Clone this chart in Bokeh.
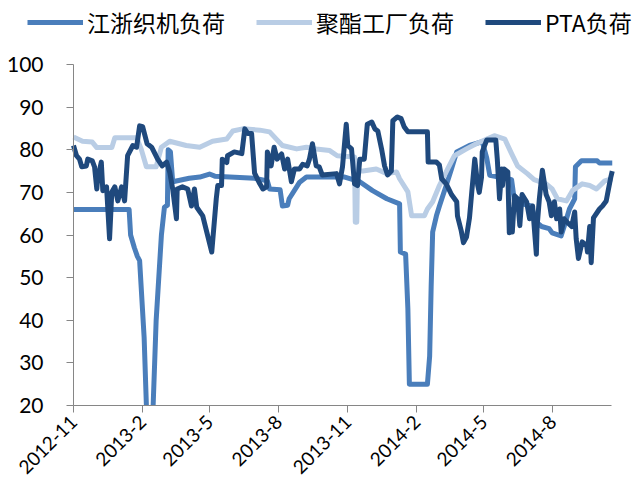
import pandas as pd
from bokeh.plotting import figure
from bokeh.models import Legend, LegendItem, FixedTicker, Range1d, DatetimeTickFormatter
from bokeh.embed import file_html
from bokeh.resources import INLINE
import math

NaN = float("nan")  # the series leaves the 20..100 scale (drawn as a gap below the axis)

# ---------------- data ----------------
tick_dates = ["2012-11-01", "2013-02-01", "2013-05-01", "2013-08-01",
              "2013-11-01", "2014-02-01", "2014-05-01", "2014-08-01"]
tick_labels = ["2012-11", "2013-2", "2013-5", "2013-8",
               "2013-11", "2014-2", "2014-5", "2014-8"]
y_ticks = [20, 30, 40, 50, 60, 70, 80, 90, 100]

jz_dates = ["2012-11-01", "2013-01-14", "2013-01-16", "2013-01-21", "2013-01-25", "2013-01-28",
            "2013-02-03", "2013-02-06", "2013-02-10", "2013-02-15", "2013-02-17", "2013-02-19",
            "2013-02-26", "2013-03-02", "2013-03-06", "2013-03-07", "2013-03-10", "2013-03-13",
            "2013-04-04", "2013-04-18", "2013-05-01", "2013-05-08", "2013-06-30", "2013-07-17",
            "2013-07-20", "2013-08-03", "2013-08-06", "2013-08-13", "2013-08-15", "2013-08-29",
            "2013-09-07", "2013-10-28", "2013-11-17", "2013-12-04", "2013-12-23", "2014-01-09",
            "2014-01-10", "2014-01-17", "2014-01-20", "2014-01-22", "2014-02-15", "2014-02-18",
            "2014-02-20", "2014-02-22", "2014-02-27", "2014-03-03", "2014-03-12", "2014-03-19",
            "2014-03-26", "2014-04-12", "2014-04-29", "2014-05-05", "2014-05-09", "2014-06-07",
            "2014-06-11", "2014-07-03", "2014-07-10", "2014-07-17", "2014-07-27", "2014-07-31",
            "2014-08-12", "2014-08-16", "2014-08-23", "2014-08-30", "2014-08-31", "2014-09-08",
            "2014-09-29", "2014-10-02", "2014-10-19"]
jz_vals = [66, 66, 60, 57, 55, 54,
           36, 20, NaN, 20, 30, 40,
           60, 66.5, 67, 80, 79.5, 72.5,
           73.3, 73.6, 74.3, 73.8, 73.3, 72.7,
           70.8, 70.6, 66.8, 67, 68.5, 72.4,
           73.6, 73.6, 72.5, 70.4, 68.5, 67.3,
           56, 55.5, 42.7, 25, 25, 31.6,
           48, 60.7, 64.5, 66.8, 71.6, 75.5,
           79.5, 81, 81.9, 78, 74, 73,
           67.8, 66.8, 63, 62, 61.5, 60.5,
           59.8, 62, 66.1, 68.5, 76, 77.4,
           77.4, 76.9, 76.9]

jy_dates = ["2012-11-01", "2012-11-13", "2012-11-26", "2012-12-02", "2012-12-22", "2012-12-26",
            "2013-01-24", "2013-01-30", "2013-02-06", "2013-02-19", "2013-02-26", "2013-03-09",
            "2013-03-31", "2013-04-18", "2013-05-05", "2013-05-24", "2013-06-01", "2013-06-14",
            "2013-07-07", "2013-07-20", "2013-07-29", "2013-08-06", "2013-08-25", "2013-09-07",
            "2013-09-20", "2013-10-08", "2013-10-18", "2013-11-10", "2013-11-11", "2013-11-13",
            "2013-11-14", "2013-11-21", "2013-12-09", "2013-12-23", "2014-01-05", "2014-01-09",
            "2014-01-20", "2014-01-25", "2014-02-11", "2014-02-15", "2014-02-22", "2014-03-03",
            "2014-03-14", "2014-03-23", "2014-04-08", "2014-04-21", "2014-05-15", "2014-05-29",
            "2014-06-07", "2014-06-15", "2014-06-28", "2014-07-07", "2014-07-23", "2014-07-31",
            "2014-08-07", "2014-08-19", "2014-08-27", "2014-09-09", "2014-09-19", "2014-09-28",
            "2014-10-09", "2014-10-19"]
jy_vals = [83, 82, 81.8, 80.5, 80.5, 82.8,
           82.8, 80.2, 76, 76, 80.6, 82,
           81, 80.6, 82, 82.5, 84.4, 84.9,
           84.6, 84.2, 82.5, 81, 80.2, 80.6,
           80.2, 79.8, 78.6, 78.3, 63, 63,
           75, 75, 75.5, 74.4, 74.8, 73.2,
           70.1, 64.5, 64.5, 66.1, 67.8, 71.6,
           75.5, 78.6, 80.2, 81.4, 83.3, 82.5,
           79.1, 76.2, 74.4, 73, 72, 70.8,
           68.5, 68, 70.4, 72, 71.6, 70.8,
           72.7, 73.2]

pta_dates = ["2012-11-01", "2012-11-05", "2012-11-09", "2012-11-12", "2012-11-18", "2012-11-20",
             "2012-11-26", "2012-11-29", "2012-12-02", "2012-12-03", "2012-12-08", "2012-12-10",
             "2012-12-15", "2012-12-19", "2012-12-22", "2012-12-26", "2012-12-30", "2013-01-04",
             "2013-01-08", "2013-01-12", "2013-01-19", "2013-01-24", "2013-01-28", "2013-02-01",
             "2013-02-07", "2013-02-13", "2013-02-21", "2013-02-27", "2013-03-05", "2013-03-09",
             "2013-03-13", "2013-03-18", "2013-03-19", "2013-03-26", "2013-04-02", "2013-04-07",
             "2013-04-11", "2013-04-14", "2013-04-22", "2013-05-04", "2013-05-10", "2013-05-12",
             "2013-05-17", "2013-05-18", "2013-05-24", "2013-05-25", "2013-06-03", "2013-06-13",
             "2013-06-17", "2013-06-21", "2013-06-26", "2013-06-30", "2013-07-07", "2013-07-11",
             "2013-07-16", "2013-07-17", "2013-07-22", "2013-07-26", "2013-07-30", "2013-08-05",
             "2013-08-09", "2013-08-13", "2013-08-18", "2013-08-22", "2013-08-29", "2013-09-02",
             "2013-09-08", "2013-09-11", "2013-09-15", "2013-09-20", "2013-09-24", "2013-09-28",
             "2013-10-17", "2013-10-21", "2013-10-25", "2013-10-30", "2013-11-01", "2013-11-06",
             "2013-11-10", "2013-11-14", "2013-11-17", "2013-11-23", "2013-11-27", "2013-12-03",
             "2013-12-07", "2013-12-11", "2013-12-16", "2013-12-20", "2013-12-24", "2013-12-29",
             "2013-12-31", "2014-01-06", "2014-01-11", "2014-01-15", "2014-01-20", "2014-02-15",
             "2014-02-16", "2014-02-27", "2014-03-03", "2014-03-06", "2014-03-12", "2014-03-16",
             "2014-03-19", "2014-03-26", "2014-03-27", "2014-04-01", "2014-04-04", "2014-04-08",
             "2014-04-12", "2014-04-15", "2014-04-19", "2014-04-23", "2014-04-25", "2014-04-28",
             "2014-04-29", "2014-05-05", "2014-05-17", "2014-05-19", "2014-05-22", "2014-05-25",
             "2014-05-26", "2014-05-28", "2014-06-02", "2014-06-04", "2014-06-07", "2014-06-08",
             "2014-06-11", "2014-06-15", "2014-06-18", "2014-06-21", "2014-06-27", "2014-07-01",
             "2014-07-05", "2014-07-10", "2014-07-11", "2014-07-14", "2014-07-18", "2014-07-23",
             "2014-07-27", "2014-07-30", "2014-08-03", "2014-08-06", "2014-08-10", "2014-08-12",
             "2014-08-16", "2014-08-20", "2014-08-26", "2014-08-30", "2014-09-01", "2014-09-04",
             "2014-09-09", "2014-09-15", "2014-09-16", "2014-09-19", "2014-09-21", "2014-09-24",
             "2014-10-02", "2014-10-06", "2014-10-11", "2014-10-14", "2014-10-17", "2014-10-19"]
pta_vals = [81, 78.6, 77.8, 76, 76.2, 77.8,
            77.4, 76, 70.8, 73, 77.1, 70.4,
            71.3, 59.1, 70.1, 71.3, 68, 71.3,
            68, 78.6, 81, 80.6, 85.6, 85.4,
            81.4, 80.6, 77.8, 76.2, 77.1, 74.8,
            70.8, 63.8, 70.8, 71.3, 70.8, 66.8,
            70.8, 66.5, 64.5, 56, 68.5, 71.6,
            71.6, 77.8, 77, 78.6, 79.5, 79.1,
            84.9, 83.8, 83.8, 74.5, 72, 70.8,
            71.3, 79.5, 76.2, 80.6, 77.8, 79,
            75.5, 77.8, 72.5, 75.5, 75.5, 76.6,
            76.2, 77.8, 81.4, 76.2, 76, 74.1,
            74.4, 72, 76, 86, 81, 80.2,
            72, 71.6, 77.8, 77.8, 86, 86.5,
            84.9, 84.4, 80.2, 76.2, 74.1, 75,
            86.8, 87.7, 87.3, 85.4, 84.2, 84.2,
            77.1, 77.1, 76.4, 73.2, 72, 70.6,
            69.5, 67.8, 64.5, 61, 58.2, 59.5,
            64, 70, 77.8, 71.6, 70, 73.5,
            79.5, 82.3, 82.3, 77.8, 68.5, 75.5,
            71.6, 75.5, 74.8, 60.5, 66, 60.7,
            69.2, 68.5, 62.2, 69.5, 67.8, 63.8,
            66.8, 55.5, 62, 68.5, 75.2, 69.5,
            67.8, 64.5, 67.8, 63.8, 66.1, 60.7,
            63.8, 63, 62, 65.4, 59.1, 54.5,
            58.4, 57.5, 56, 62, 53.5, 64,
            66.1, 66.8, 68, 70.8, 73.5, 75]

series_names = ["江浙织机负荷", "聚酯工厂负荷", "PTA负荷"]
series_colors = ["#4A7EBB", "#B9CDE5", "#1F497D"]
series = [(jz_dates, jz_vals), (jy_dates, jy_vals), (pta_dates, pta_vals)]

# ---------------- figure ----------------
# The frame spans the whole canvas (so the legend may sit above/left of the axes);
# both axes are pinned with fixed_location/bounds to the 2012-11..2014-10 x 20..100 box.
x_start = pd.Timestamp("2012-11-01")
x_end = pd.Timestamp("2014-10-18")
px_per_day = 538 / (x_end - x_start).days
px_per_unit = 341 / 80
view_start = x_start - pd.Timedelta(days=73 / px_per_day)
view_end = x_end + pd.Timedelta(days=25 / px_per_day)
y_top = 100 + 64 / px_per_unit
y_bottom = 20 - 83 / px_per_unit

p = figure(width=636, height=488, output_backend="svg", toolbar_location=None,
           x_axis_type="datetime",
           x_range=Range1d(view_start, view_end), y_range=Range1d(y_bottom, y_top),
           min_border_left=0, min_border_right=0, min_border_top=0, min_border_bottom=0)
p.outline_line_color = None
p.grid.visible = False

renderers = []
for (dates, vals), color in zip(series, series_colors):
    r = p.line(pd.to_datetime(dates), vals, line_color=color, line_width=5,
               line_join="round", line_cap="butt")
    renderers.append(r)

start_ms = x_start.value / 1e6
end_ms = x_end.value / 1e6
tick_ms = [pd.Timestamp(d).value / 1e6 for d in tick_dates]
p.xaxis.ticker = FixedTicker(ticks=tick_ms)
p.xaxis.formatter = DatetimeTickFormatter(days="%Y-%m", months="%Y-%m", years="%Y-%m")
p.xaxis.major_label_overrides = {t: lab for t, lab in zip(tick_ms, tick_labels)}
p.xaxis.major_label_orientation = math.pi / 4
p.xaxis.bounds = (start_ms, end_ms)
p.xaxis.fixed_location = 20
p.yaxis.ticker = FixedTicker(ticks=y_ticks)
p.yaxis.bounds = (20, 100)
p.yaxis.fixed_location = start_ms

for ax in (p.xaxis[0], p.yaxis[0]):
    ax.axis_line_color = "#868686"
    ax.axis_line_width = 1
    ax.major_tick_line_color = "#868686"
    ax.major_tick_out = 7
    ax.major_tick_in = 0
    ax.minor_tick_out = 0
    ax.minor_tick_in = 0
    ax.major_label_text_font = "Lato"
    ax.major_label_text_color = "black"
p.yaxis.major_label_text_font_size = "21px"
p.xaxis.major_label_text_font_size = "19px"
p.yaxis.major_label_standoff = 23
p.xaxis.major_label_standoff = 6

legend = Legend(items=[LegendItem(label=n, renderers=[r]) for n, r in zip(series_names, renderers)],
                orientation="horizontal", location=(27, 449),
                glyph_width=56, glyph_height=20, label_standoff=4, spacing=31,
                padding=0, margin=0, border_line_alpha=0, background_fill_alpha=0,
                label_text_font="Noto Sans CJK SC", label_text_font_size="23px",
                label_text_color="black")
p.add_layout(legend, "center")

open("out.html", "w").write(file_html(p, INLINE))
